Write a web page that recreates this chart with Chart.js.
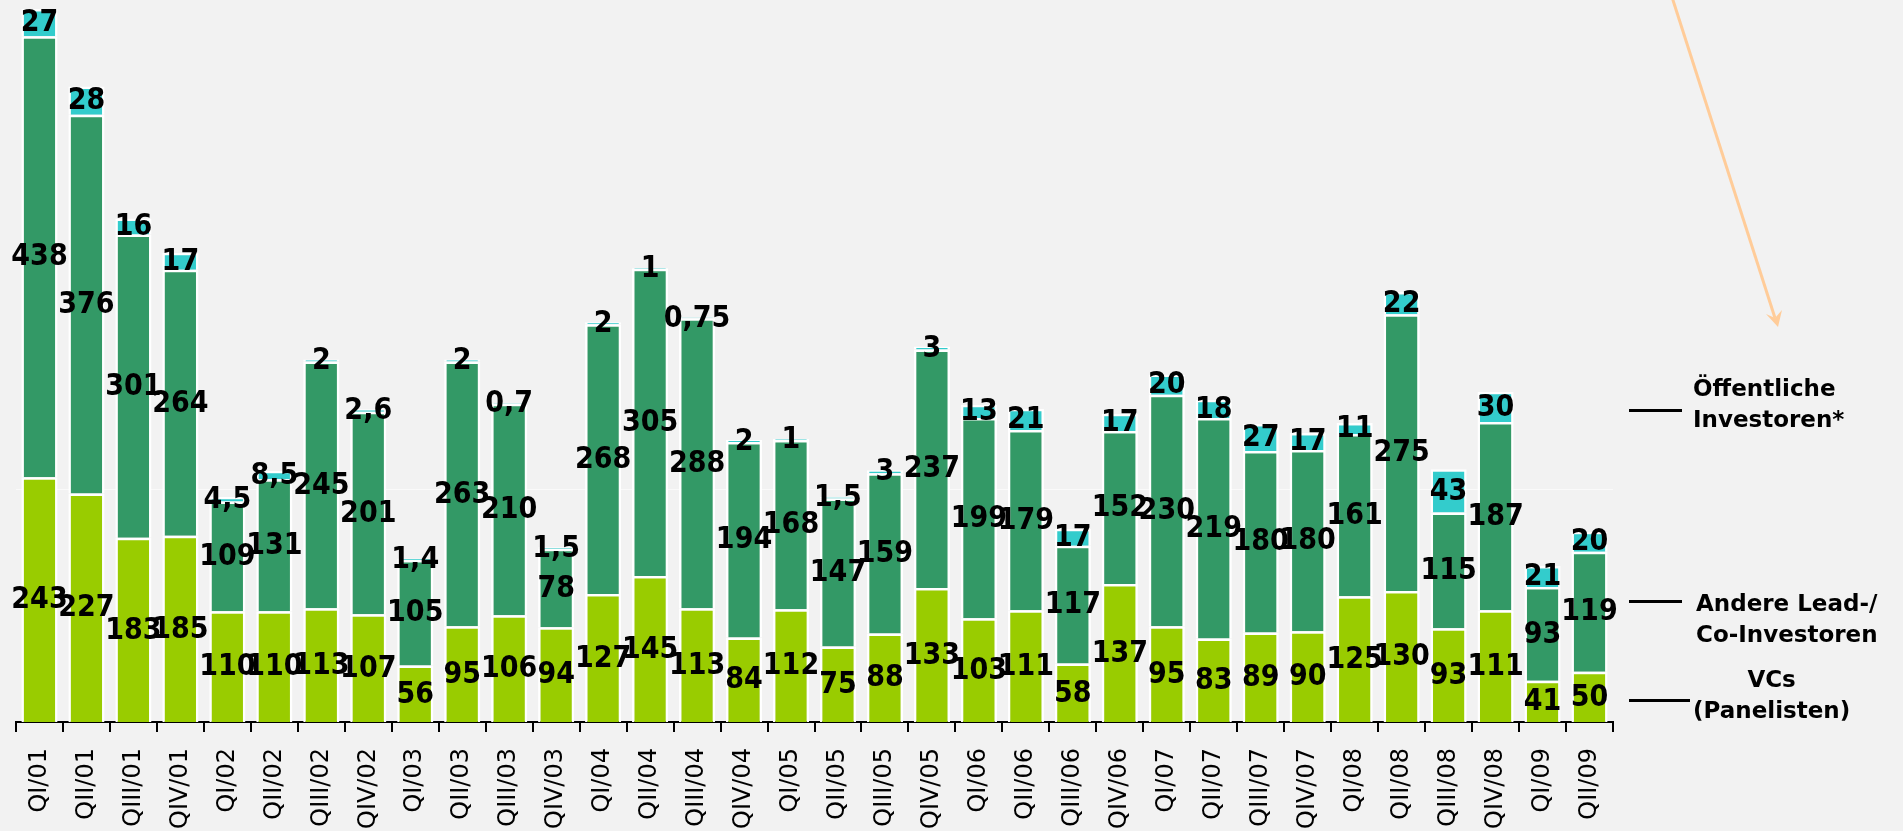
<!DOCTYPE html>
<html>
<head>
<meta charset="utf-8">
<script src="https://cdn.jsdelivr.net/npm/chart.js@4.4.1/dist/chart.umd.min.js"></script>
<style>
    html, body { margin: 0; padding: 0; background: #f2f2f2; overflow: hidden; }
    #wrap { position: relative; width: 1903px; height: 831px; }
    #chart { position: absolute; left: 0; top: 0; }
    .leg { position: absolute; font: bold 23px "DejaVu Sans", Verdana, sans-serif; color: #000; line-height: 31px; white-space: nowrap; }
    .tick { position: absolute; height: 3px; background: #000; }
    #arrow { position: absolute; left: 0; top: 0; pointer-events: none; }
</style>
</head>
<body>
<div id="wrap">
    <canvas id="chart" width="1903" height="831"></canvas>

    <div class="tick" style="left:1629px; top:409px; width:53px;"></div>
    <div class="leg" style="left:1693px; top:373px;">Öffentliche<br>Investoren*</div>

    <div class="tick" style="left:1629px; top:600px; width:53px;"></div>
    <div class="leg" style="left:1696px; top:588px;">Andere Lead-/<br>Co-Investoren</div>

    <div class="tick" style="left:1629px; top:699px; width:61px;"></div>
    <div class="leg" style="left:1693px; top:664px; text-align:center;">VCs<br>(Panelisten)</div>

    <svg id="arrow" width="1903" height="831">
        <line x1="1671" y1="-6" x2="1775" y2="318" stroke="#ffcc99" stroke-width="3"/>
        <polygon points="1778,327 1766,314 1775,318 1782,310" fill="#ffcc99"/>
    </svg>
</div>

<script>
// Quartale
const quarters = [
    'QI/01', 'QII/01', 'QIII/01', 'QIV/01',
    'QI/02', 'QII/02', 'QIII/02', 'QIV/02',
    'QI/03', 'QII/03', 'QIII/03', 'QIV/03',
    'QI/04', 'QII/04', 'QIII/04', 'QIV/04',
    'QI/05', 'QII/05', 'QIII/05', 'QIV/05',
    'QI/06', 'QII/06', 'QIII/06', 'QIV/06',
    'QI/07', 'QII/07', 'QIII/07', 'QIV/07',
    'QI/08', 'QII/08', 'QIII/08', 'QIV/08',
    'QI/09', 'QII/09'
];

// VCs (Panelisten)
const vcs = [
    243, 227, 183, 185, 110, 110, 113, 107, 56, 95, 106, 94,
    127, 145, 113, 84, 112, 75, 88, 133, 103, 111, 58, 137,
    95, 83, 89, 90, 125, 130, 93, 111, 41, 50
];

// Andere Lead-/Co-Investoren
const andere = [
    438, 376, 301, 264, 109, 131, 245, 201, 105, 263, 210, 78,
    268, 305, 288, 194, 168, 147, 159, 237, 199, 179, 117, 152,
    230, 219, 180, 180, 161, 275, 115, 187, 93, 119
];

// Öffentliche Investoren*
const oeffentliche = [
    27, 28, 16, 17, 4.5, 8.5, 2, 2.6, 1.4, 2, 0.7, 1.5,
    2, 1, 0.75, 2, 1, 1.5, 3, 3, 13, 21, 17, 17,
    20, 18, 27, 17, 11, 22, 43, 30, 21, 20
];

// helle Hilfslinie im Diagramm
const gridValues = [231];

const fmt = v => String(v).replace('.', ',');

// Werte mittig in jedes Segment schreiben (leicht gestreckt wie Verdana)
const segmentLabels = {
    id: 'segmentLabels',
    afterDraw(chart) {
        const ctx = chart.ctx;
        chart.data.datasets.forEach((ds, i) => {
            chart.getDatasetMeta(i).data.forEach((bar, j) => {
                const p = bar.getProps(['x', 'y', 'base'], true);
                ctx.save();
                ctx.translate(p.x, (p.y + p.base) / 2 + 1);
                ctx.scale(1, 1.1);
                ctx.font = 'bold 27px "DejaVu Sans", Verdana, sans-serif';
                ctx.fillStyle = '#000';
                ctx.textAlign = 'center';
                ctx.textBaseline = 'middle';
                ctx.fillText(fmt(ds.data[j]), 0, 0);
                ctx.restore();
            });
        });
    }
};

const barStyle = {
    borderColor: '#ffffff',
    borderWidth: 2.5,
    borderSkipped: 'start',
    barPercentage: 0.77,
    categoryPercentage: 1.0,
};

new Chart(document.getElementById('chart'), {
    type: 'bar',
    data: {
        labels: quarters,
        datasets: [
            { label: 'VCs (Panelisten)', data: vcs, backgroundColor: '#99cc00', ...barStyle },
            { label: 'Andere Lead-/Co-Investoren', data: andere, backgroundColor: '#339966', ...barStyle },
            { label: 'Öffentliche Investoren*', data: oeffentliche, backgroundColor: '#33cccc', ...barStyle },
        ]
    },
    options: {
        responsive: false,
        animation: false,
        layout: { padding: { left: 16, right: 290, top: 0, bottom: 0 } },
        plugins: {
            legend: { display: false },
            tooltip: { enabled: false },
        },
        scales: {
            x: {
                stacked: true,
                afterFit: (scale) => { scale.height = 109; },
                border: { display: true, color: '#000', width: 2 },
                grid: {
                    offset: true,
                    drawOnChartArea: false,
                    drawTicks: true,
                    tickLength: 10,
                    color: '#000',
                    lineWidth: 2,
                },
                ticks: {
                    autoSkip: false,
                    maxRotation: 90,
                    minRotation: 90,
                    padding: 16,
                    color: '#000',
                    font: { family: '"DejaVu Sans", Verdana, sans-serif', size: 24 },
                },
            },
            y: {
                stacked: true,
                min: 0,
                max: 717,
                z: 1,
                afterBuildTicks: (scale) => { scale.ticks = gridValues.map(v => ({ value: v })); },
                border: { display: false },
                grid: { drawTicks: false, color: 'rgba(255,255,255,0.6)', lineWidth: 1 },
                ticks: { display: false },
            },
        },
    },
    plugins: [segmentLabels],
});
</script>
</body>
</html>
